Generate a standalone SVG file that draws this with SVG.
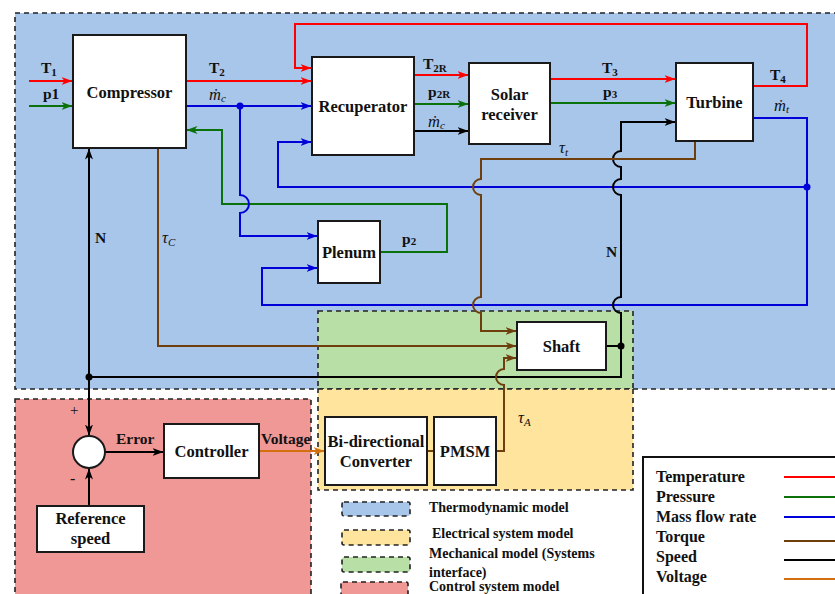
<svg xmlns="http://www.w3.org/2000/svg" width="835" height="594" viewBox="0 0 835 594">
<style>
text{font-family:"Liberation Serif","Times New Roman",serif;fill:#111}
.b{font-weight:bold}
.nl{font-size:16.5px;font-weight:bold;text-anchor:middle}
.lb{font-size:15.5px;font-weight:bold}
.m{font-size:16.5px;font-style:italic}
.sub{font-size:11px}
.reg{stroke:#222;stroke-width:1.6;stroke-dasharray:5,4}
.node{fill:#fff;stroke:#1a1a1a;stroke-width:2}
.c{fill:none;stroke-width:2}
.r{stroke:#ff0000}.g{stroke:#0b720b}.u{stroke:#0000d8}.k{stroke:#000}.w{stroke:#6e3f0c}.o{stroke:#d2700e}
.lt{font-size:16px;font-weight:bold}
.rt{font-size:14px;font-weight:bold}
</style>
<defs>
<marker id="aR" viewBox="0 0 11 8" refX="10.5" refY="4" markerWidth="11" markerHeight="8" markerUnits="userSpaceOnUse" orient="auto"><path d="M0,0 L11,4 L0,8 L3,4 z" fill="#ff0000"/></marker>
<marker id="aG" viewBox="0 0 11 8" refX="10.5" refY="4" markerWidth="11" markerHeight="8" markerUnits="userSpaceOnUse" orient="auto"><path d="M0,0 L11,4 L0,8 L3,4 z" fill="#0b720b"/></marker>
<marker id="aU" viewBox="0 0 11 8" refX="10.5" refY="4" markerWidth="11" markerHeight="8" markerUnits="userSpaceOnUse" orient="auto"><path d="M0,0 L11,4 L0,8 L3,4 z" fill="#0000d8"/></marker>
<marker id="aK" viewBox="0 0 11 8" refX="10.5" refY="4" markerWidth="11" markerHeight="8" markerUnits="userSpaceOnUse" orient="auto"><path d="M0,0 L11,4 L0,8 L3,4 z" fill="#000"/></marker>
<marker id="aW" viewBox="0 0 11 8" refX="10.5" refY="4" markerWidth="11" markerHeight="8" markerUnits="userSpaceOnUse" orient="auto"><path d="M0,0 L11,4 L0,8 L3,4 z" fill="#6e3f0c"/></marker>
<marker id="aO" viewBox="0 0 11 8" refX="10.5" refY="4" markerWidth="11" markerHeight="8" markerUnits="userSpaceOnUse" orient="auto"><path d="M0,0 L11,4 L0,8 L3,4 z" fill="#d2700e"/></marker>
</defs>
<rect width="835" height="594" fill="#fff"/>
<g id="regions">
<rect class="reg" x="15" y="13" width="830" height="376" fill="#a8c5ea"/>
<rect class="reg" x="15" y="399" width="296" height="210" fill="#f09896"/>
<rect class="reg" x="318" y="311" width="315" height="78" fill="#b8dfa6"/>
<rect class="reg" x="318" y="389" width="315" height="101" fill="#fee49c"/>
</g>
<g id="connectors">
<path class="c r" d="M29,81 H72" marker-end="url(#aR)"/>
<path class="c r" d="M186,81 H311" marker-end="url(#aR)"/>
<path class="c r" d="M753,86 H807 V24 H295 V68 H311" marker-end="url(#aR)"/>
<path class="c r" d="M414,75 H468" marker-end="url(#aR)"/>
<path class="c r" d="M550,79 H675" marker-end="url(#aR)"/>
<path class="c g" d="M29,106 H72" marker-end="url(#aG)"/>
<path class="c g" d="M380,252 H447 V204 H222 V130 H187" marker-end="url(#aG)"/>
<path class="c g" d="M414,104 H468" marker-end="url(#aG)"/>
<path class="c g" d="M550,103 H675" marker-end="url(#aG)"/>
<path class="c u" d="M186,106 H311" marker-end="url(#aU)"/>
<path class="c u" d="M240,106 V195 A9 9 0 0 1 240,213 V236 H317" marker-end="url(#aU)"/>
<path class="c u" d="M753,118 H807 V305 H262 V268 H317" marker-end="url(#aU)"/>
<path class="c u" d="M807,187 H278 V142 H311" marker-end="url(#aU)"/>
<circle cx="240" cy="106" r="3.5" fill="#0000d8"/>
<circle cx="807" cy="187" r="3.5" fill="#0000d8"/>
<path class="c k" d="M414,131 H468" marker-end="url(#aK)" stroke-width="1.6"/>
<path class="c k" d="M89,377 H621 V313 A8 8 0 0 1 621,297 V195 A8 8 0 0 1 621,179 V167 A8 8 0 0 1 621,151 V122 H675" marker-end="url(#aK)"/>
<path class="c k" d="M606,346 H621"/>
<circle cx="621" cy="346" r="3.5" fill="#000"/>
<path class="c k" d="M89,377 V149" marker-end="url(#aK)"/>
<path class="c k" d="M89,377 V435" marker-end="url(#aK)"/>
<path class="c k" d="M89,506 V469" marker-end="url(#aK)"/>
<path class="c k" d="M105,452 H163" marker-end="url(#aK)"/>
<circle cx="89" cy="377" r="3.5" fill="#000"/>
<path class="c w" d="M695,141 V159 H481 V179 A8 8 0 0 0 481,195 V297 A8 8 0 0 0 481,313 V331 H516" marker-end="url(#aW)"/>
<path class="c w" d="M158,148 V346 H516" marker-end="url(#aW)"/>
<path class="c w" d="M496,451 H504 V385 A8 8 0 0 1 504,369 V358 H516" marker-end="url(#aW)"/>
<path class="c w" d="M427,451 H434"/>
<path class="c o" d="M259,451 H324" marker-end="url(#aO)"/>
</g>
<g id="compressor"><rect class="node" x="73" y="35" width="113" height="113"/><text class="nl" x="129.5" y="98">Compressor</text></g>
<g id="recuperator"><rect class="node" x="312" y="57" width="102" height="98"/><text class="nl" x="363" y="112">Recuperator</text></g>
<g id="solar-receiver"><rect class="node" x="469" y="63" width="81" height="81"/><text class="nl" x="509.5" y="100">Solar</text><text class="nl" x="509.5" y="120">receiver</text></g>
<g id="turbine"><rect class="node" x="676" y="63" width="77" height="78"/><text class="nl" x="714.5" y="108">Turbine</text></g>
<g id="plenum"><rect class="node" x="318" y="221" width="62" height="62"/><text class="nl" x="349" y="258">Plenum</text></g>
<g id="shaft"><rect class="node" x="517" y="322" width="89" height="48"/><text class="nl" x="561.5" y="352">Shaft</text></g>
<g id="converter"><rect class="node" x="325" y="417" width="102" height="68"/><text class="nl" x="376" y="447">Bi-directional</text><text class="nl" x="376" y="467">Converter</text></g>
<g id="pmsm"><rect class="node" x="434" y="417" width="62" height="68"/><text class="nl" x="465" y="457">PMSM</text></g>
<g id="controller"><rect class="node" x="164" y="424" width="95" height="54"/><text class="nl" x="211.5" y="457">Controller</text></g>
<g id="sum"><circle class="node" cx="89" cy="452" r="16"/></g>
<g id="reference-speed"><rect class="node" x="37" y="506" width="107" height="46"/><text class="nl" x="90.5" y="524">Reference</text><text class="nl" x="90.5" y="544">speed</text></g>
<g id="labels">
<text class="lb" x="41" y="73">T<tspan class="sub" dy="3">1</tspan></text>
<text class="lb" x="43" y="99">p1</text>
<text class="lb" x="209" y="73">T<tspan class="sub" dy="3">2</tspan></text>
<text class="m" x="209" y="100">ṁ<tspan class="sub" dy="2">c</tspan></text>
<text class="lb" x="423" y="69">T<tspan class="sub b" dy="3">2R</tspan></text>
<text class="lb" x="428" y="97">p<tspan class="sub b" dy="1">2R</tspan></text>
<text class="m" x="428" y="127">ṁ<tspan class="sub" dy="2">c</tspan></text>
<text class="lb" x="602" y="73">T<tspan class="sub" dy="3">3</tspan></text>
<text class="lb" x="603" y="97">p<tspan class="sub" dy="1">3</tspan></text>
<text class="lb" x="770" y="80">T<tspan class="sub" dy="3">4</tspan></text>
<text class="m" x="774" y="111">ṁ<tspan class="sub" dy="2">t</tspan></text>
<text class="m" x="559" y="153">τ<tspan class="sub" dy="3">t</tspan></text>
<text class="lb" x="95" y="243">N</text>
<text class="m" x="162" y="243">τ<tspan class="sub" dy="3">C</tspan></text>
<text class="lb" x="402" y="244">p<tspan class="sub" dy="1">2</tspan></text>
<text class="lb" x="606" y="257">N</text>
<text class="m" x="518" y="423">τ<tspan class="sub" dy="3">A</tspan></text>
<text class="lb" x="116" y="444">Error</text>
<text class="lb" x="261" y="444">Voltage</text>
<text x="70" y="415" font-size="15px">+</text>
<text x="70" y="484" font-size="16px">-</text>
</g>
<g id="region-legend">
<rect x="342" y="502" width="68" height="14" rx="2" fill="#a8c5ea" class="reg" stroke="#444"/>
<rect x="342" y="530" width="68" height="15" rx="2" fill="#fee49c" class="reg"/>
<rect x="342" y="557" width="68" height="15" rx="2" fill="#b8dfa6" class="reg"/>
<rect x="341" y="582" width="67" height="20" rx="2" fill="#f09896" class="reg"/>
<text class="rt" x="429" y="512">Thermodynamic model</text>
<text class="rt" x="432" y="538">Electrical system model</text>
<text class="rt" x="429" y="558">Mechanical model (Systems</text>
<text class="rt" x="429" y="577">interface)</text>
<text class="rt" x="429" y="591">Control system model</text>
</g>
<g id="signal-legend">
<rect x="643" y="457" width="200" height="150" fill="#fff" stroke="#111" stroke-width="2"/>
<text class="lt" x="656" y="482">Temperature</text>
<text class="lt" x="656" y="502">Pressure</text>
<text class="lt" x="656" y="522">Mass flow rate</text>
<text class="lt" x="656" y="542">Torque</text>
<text class="lt" x="656" y="562">Speed</text>
<text class="lt" x="656" y="582">Voltage</text>
<path class="c r" d="M784,477 H835"/>
<path class="c g" d="M784,497 H835"/>
<path class="c u" d="M784,517 H835"/>
<path class="c w" d="M784,541 H835"/>
<path class="c k" d="M784,560 H835"/>
<path class="c o" d="M784,579 H835"/>
</g>
</svg>
